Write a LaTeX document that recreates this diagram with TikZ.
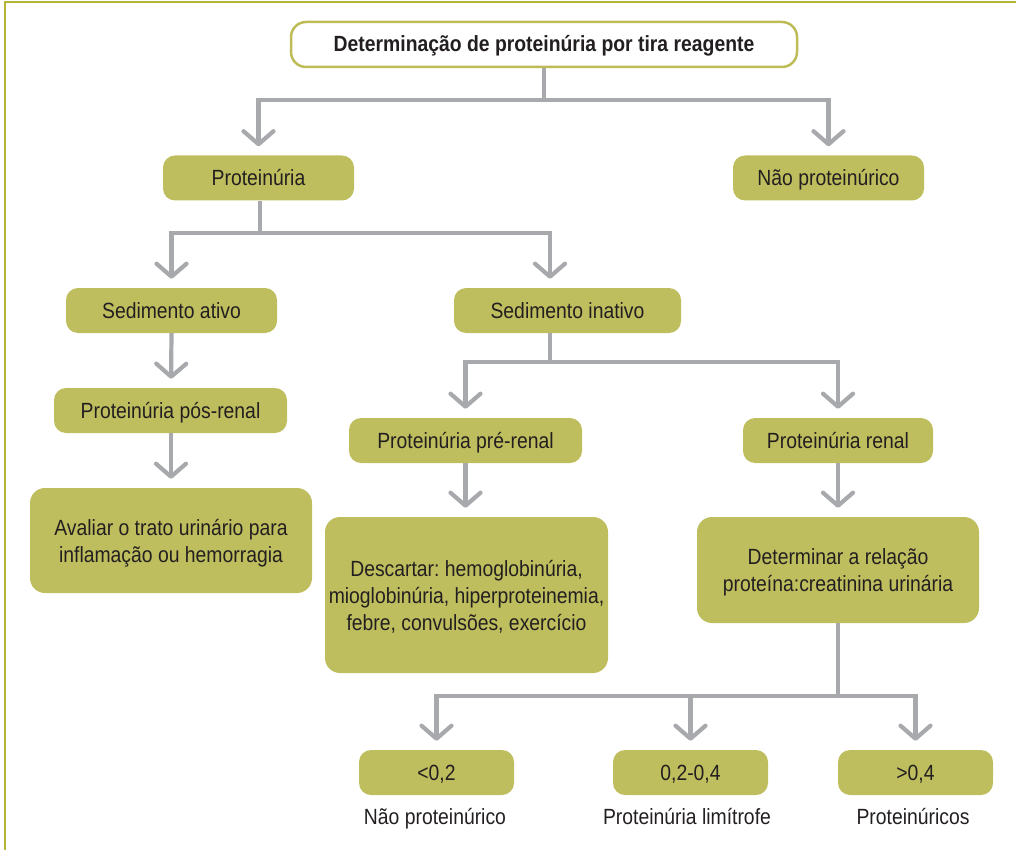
\documentclass[tikz,border=0pt]{standalone}
\usepackage{fontspec}
\setmainfont{Liberation Sans}[FakeStretch=0.88]
\usetikzlibrary{arrows.meta}
\definecolor{boxfill}{HTML}{BFBE5E}
\definecolor{conngray}{HTML}{A7A9AC}
\definecolor{frameol}{HTML}{B5B536}
\definecolor{titleborder}{HTML}{BDBC57}
\definecolor{txt}{HTML}{231F20}
\frenchspacing
\begin{document}
\begin{tikzpicture}[x=1pt,y=-1pt,
  box/.style={fill=boxfill, rounded corners=12pt, minimum width=#1, minimum height=45pt,
    inner sep=0pt, text=txt, font=\fontsize{22}{27}\selectfont, align=center,
    text height=15pt, text depth=0pt},
  bigbox/.style={fill=boxfill, rounded corners=15pt, minimum width=#1,
    inner sep=0pt, text=txt, font=\fontsize{22}{27}\selectfont, align=center,
    text depth=0pt},
  titlebox/.style={fill=white, draw=titleborder, line width=2.5pt, rounded corners=15pt,
    minimum width=506pt, minimum height=45pt, inner sep=0pt, text=txt,
    font=\fontsize{22}{27}\selectfont\bfseries, text height=15pt, text depth=0pt},
  lbl/.style={text=txt, font=\fontsize{22}{27}\selectfont, inner sep=0pt,
    text height=15pt, text depth=0pt},
  conn/.style={draw=conngray, line width=4.2pt},
  arr/.style={conn, -{Straight Barb[length=13pt,width=30pt,round]}, shorten >=9pt},
  framebar/.style={draw=frameol, line width=2pt}
]
\useasboundingbox (0,0) rectangle (1016,850);
\draw[framebar] (5,850) -- (5,2) -- (1016,2);

\node[titlebox] (title) at (544,44.5) {Determinação de proteinúria por tira reagente};
\node[box=191pt] (prot) at (258.5,178) {Proteinúria};
\node[box=191pt] (naoprot) at (828.5,178) {Não proteinúrico};
\node[box=211pt] (sedat) at (171.5,310.5) {Sedimento ativo};
\node[box=227pt] (sedin) at (567.5,310.5) {Sedimento inativo};
\node[box=233pt] (posren) at (170.5,410.5) {Proteinúria pós-renal};
\node[box=233pt] (preren) at (465.5,440.5) {Proteinúria pré-renal};
\node[box=190pt] (renal) at (838,440.5) {Proteinúria renal};
\node[bigbox=282pt, minimum height=105pt] (avaliar) at (171,540.5)
  {Avaliar o trato urinário para\\inflamação ou hemorragia};
\node[bigbox=283pt, minimum height=156pt] (descartar) at (466.5,595)
  {Descartar: hemoglobinúria,\\mioglobinúria, hiperproteinemia,\\febre, convulsões, exercício};
\node[bigbox=282pt, minimum height=106pt] (determinar) at (838,570)
  {Determinar a relação\\proteína:creatinina urinária};
\node[box=155pt] (r1) at (436.5,772.5) {<0,2};
\node[box=155pt] (r2) at (690.5,772.5) {0,2-0,4};
\node[box=155pt] (r3) at (915.5,772.5) {>0,4};
\node[lbl] (l1) at (435,817) {Não proteinúrico};
\node[lbl] (l2) at (687,817) {Proteinúria limítrofe};
\node[lbl] (l3) at (913,817) {Proteinúricos};

% connectors
\draw[conn] (title.south) -- ++(0,32) coordinate (j0);
\draw[arr] (j0) -| (prot.north);
\draw[arr] (j0) -| (naoprot.north);

\draw[conn] ([xshift=1.5pt]prot.south) -- ++(0,32) coordinate (j1);
\draw[arr] (j1) -| (sedat.north);
\draw[arr] (j1) -| ([xshift=-17.5pt]sedin.north);

\draw[arr] (sedat.south) -- ([xshift=0.5pt]posren.north);
\draw[arr] ([xshift=0.5pt]posren.south) -- (avaliar.north);

\draw[conn] ([xshift=-17.5pt]sedin.south) -- ++(0,29) coordinate (j2);
\draw[arr] (j2) -| (preren.north);
\draw[arr] (j2) -| (renal.north);

\draw[arr] (preren.south) -- ([xshift=-1pt]descartar.north);
\draw[arr] (renal.south) -- (determinar.north);

\draw[conn] (determinar.south) -- ++(0,73) coordinate (j3);
\draw[arr] (j3) -| (r1.north);
\draw[arr] (j3) -| (r2.north);
\draw[arr] (j3) -| (r3.north);
\end{tikzpicture}
\end{document}
